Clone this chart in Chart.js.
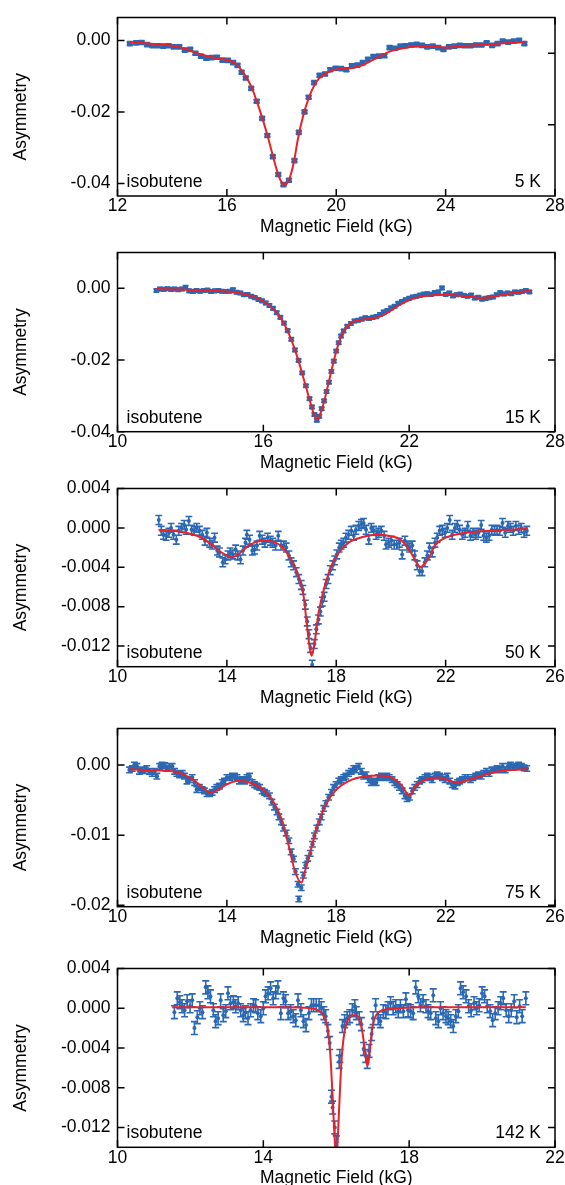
<!DOCTYPE html>
<html>
<head>
<meta charset="utf-8">
<title>Isobutene avoided level crossing spectra</title>
<script src="https://cdn.jsdelivr.net/npm/chart.js@4.4.0/dist/chart.umd.min.js"></script>
<style>
  html, body { margin: 0; padding: 0; background: #fff; }
  #wrap { position: relative; width: 565px; height: 1185px; overflow: hidden; }
  #wrap canvas { position: absolute; left: 0; }
</style>
</head>
<body>
<div id="wrap"></div>
<script>
// ---- 5 K ----
const field5K = [12.45,12.68,12.88,13.08,13.28,13.47,13.67,13.87,14.06,14.26,14.46,14.66,14.85,15.05,15.25,15.44,15.64,15.84,16.04,16.23,16.39,16.54,16.69,16.89,17.09,17.29,17.48,17.68,17.88,18.07,18.27,18.47,18.63,18.84,18.99,19.19,19.39,19.59,19.78,19.98,20.18,20.37,20.57,20.77,20.97,21.16,21.36,21.56,21.76,21.95,22.15,22.35,22.54,22.74,22.94,23.14,23.33,23.53,23.73,23.92,24.12,24.32,24.52,24.71,24.91,25.11,25.31,25.5,25.7,25.9,26.09,26.29,26.49,26.69,26.88];
const asym5K = [-0.0009,-0.0007,-0.0006,-0.0012,-0.0015,-0.0015,-0.0016,-0.0015,-0.0018,-0.0018,-0.0027,-0.0025,-0.0036,-0.0044,-0.0050,-0.0048,-0.0047,-0.0055,-0.0056,-0.0062,-0.0070,-0.0089,-0.0105,-0.0134,-0.0170,-0.0218,-0.0266,-0.0325,-0.0375,-0.0403,-0.0391,-0.0336,-0.0257,-0.0200,-0.0159,-0.0118,-0.0098,-0.0094,-0.0082,-0.0078,-0.0079,-0.0082,-0.0071,-0.0069,-0.0062,-0.0053,-0.0045,-0.0044,-0.0043,-0.0020,-0.0022,-0.0016,-0.0015,-0.0013,-0.0011,-0.0014,-0.0018,-0.0016,-0.0020,-0.0025,-0.0018,-0.0016,-0.0014,-0.0015,-0.0015,-0.0013,-0.0013,-0.0007,-0.0014,-0.0009,-0.0002,-0.0005,-0.0002,0.0000,-0.0009];
const err5K = 0.0004;
const fit5KField = [12.45,13.0,13.5,14.0,14.5,15.0,15.5,16.0,16.3,16.6,16.9,17.1,17.3,17.5,17.7,17.9,18.05,18.12,18.2,18.3,18.45,18.6,18.8,19.0,19.2,19.4,19.7,20.1,20.6,21.0,21.5,22.0,22.5,23.0,23.5,24.0,24.5,25.0,26.0,26.9];
const fit5KAsym = [-0.0005,-0.0008,-0.0011,-0.0015,-0.0024,-0.0038,-0.0048,-0.0055,-0.0064,-0.0090,-0.0130,-0.0172,-0.0218,-0.0270,-0.0328,-0.0380,-0.0402,-0.0405,-0.0399,-0.0384,-0.0340,-0.0275,-0.0208,-0.0160,-0.0125,-0.0104,-0.0089,-0.0080,-0.0077,-0.0068,-0.0048,-0.0030,-0.0021,-0.0017,-0.0017,-0.0020,-0.0017,-0.0014,-0.0009,-0.0004];
const fieldTicks5K = [12, 16, 20, 24, 28];
const asymTicks5K = [0, -0.02, -0.04];
const asymRightTicks5K = [-0.0036, -0.0236];

// ---- 15 K ----
const field15K = [11.60,11.75,11.90,12.05,12.20,12.35,12.50,12.65,12.80,12.95,13.10,13.25,13.40,13.55,13.70,13.85,14.00,14.15,14.30,14.45,14.60,14.75,14.90,15.05,15.20,15.35,15.50,15.65,15.80,15.95,16.10,16.25,16.40,16.55,16.70,16.85,17.00,17.15,17.30,17.45,17.60,17.75,17.90,18.00,18.10,18.20,18.30,18.40,18.50,18.60,18.70,18.80,18.90,19.00,19.10,19.20,19.30,19.45,19.60,19.75,19.90,20.05,20.20,20.35,20.50,20.65,20.80,20.95,21.10,21.25,21.40,21.55,21.70,21.85,22.00,22.15,22.30,22.45,22.60,22.75,22.90,23.05,23.20,23.35,23.50,23.65,23.80,23.95,24.10,24.25,24.40,24.55,24.70,24.85,25.00,25.15,25.30,25.45,25.60,25.75,25.90,26.05,26.20,26.35,26.50,26.65,26.80,26.95];
const asym15K = [-0.0006,-0.0002,-0.0003,-0.0001,-0.0003,-0.0002,-0.0004,-0.0002,0.0003,-0.0007,-0.0009,-0.0006,-0.0008,-0.0006,-0.0005,-0.0009,-0.0007,-0.0006,-0.0008,-0.0009,-0.0008,-0.0004,-0.0011,-0.0013,-0.0018,-0.0017,-0.0022,-0.0026,-0.0031,-0.0035,-0.0041,-0.0048,-0.0056,-0.0068,-0.0081,-0.0097,-0.0118,-0.0142,-0.0172,-0.0201,-0.0236,-0.0272,-0.0308,-0.0331,-0.0352,-0.0368,-0.0357,-0.0336,-0.0314,-0.0288,-0.0262,-0.0232,-0.0203,-0.0175,-0.0152,-0.0133,-0.0119,-0.0106,-0.0098,-0.0091,-0.0089,-0.0086,-0.0082,-0.0084,-0.0081,-0.0079,-0.0073,-0.0066,-0.0062,-0.0055,-0.0050,-0.0042,-0.0037,-0.0032,-0.0028,-0.0024,-0.0022,-0.0019,-0.0016,-0.0015,-0.0017,-0.0012,-0.0010,0.0001,-0.0017,-0.0013,-0.0021,-0.0018,-0.0016,-0.0020,-0.0022,-0.0019,-0.0027,-0.0025,-0.0030,-0.0028,-0.0026,-0.0024,-0.0018,-0.0012,-0.0016,-0.0013,-0.0015,-0.0010,-0.0011,-0.0009,-0.0006,-0.0010];
const err15K = 0.0004;
const fit15KField = [11.6,12.5,13.5,14.5,15.0,15.5,16.0,16.5,16.8,17.1,17.4,17.7,17.95,18.1,18.2,18.3,18.45,18.6,18.8,19.0,19.2,19.4,19.7,20.0,20.5,20.9,21.4,22.0,22.5,23.0,23.5,24.0,24.5,25.0,25.5,26.0,26.5,27.0];
const fit15KAsym = [-0.0002,-0.0003,-0.0005,-0.0009,-0.0013,-0.0021,-0.0036,-0.0064,-0.0092,-0.0135,-0.0192,-0.0262,-0.0322,-0.0355,-0.0366,-0.0358,-0.0328,-0.0288,-0.0230,-0.0176,-0.0135,-0.0110,-0.0093,-0.0088,-0.0084,-0.0076,-0.0055,-0.0032,-0.0023,-0.0019,-0.0018,-0.0020,-0.0023,-0.0027,-0.0023,-0.0016,-0.0011,-0.0007];
const fieldTicks15K = [10, 16, 22, 28];
const asymTicks15K = [0, -0.02, -0.04];

// ---- 50 K ----
const field50K = [11.51,11.60,11.68,11.78,11.88,11.96,12.05,12.15,12.24,12.34,12.44,12.51,12.61,12.71,12.80,12.90,13.00,13.10,13.20,13.27,13.37,13.46,13.55,13.65,13.73,13.85,13.94,14.04,14.12,14.22,14.32,14.40,14.50,14.59,14.68,14.73,14.83,14.93,15.01,15.10,15.20,15.29,15.39,15.49,15.59,15.68,15.78,15.88,15.98,16.07,16.17,16.27,16.35,16.44,16.54,16.63,16.72,16.78,16.87,16.94,17.00,17.06,17.12,17.20,17.27,17.35,17.42,17.49,17.56,17.63,17.70,17.78,17.87,17.94,18.02,18.11,18.18,18.27,18.35,18.45,18.55,18.64,18.72,18.82,18.92,19.00,19.09,19.19,19.28,19.37,19.46,19.55,19.65,19.75,19.82,19.92,20.02,20.12,20.21,20.31,20.41,20.51,20.59,20.68,20.78,20.87,20.96,21.05,21.14,21.24,21.33,21.41,21.51,21.61,21.69,21.78,21.88,21.98,22.06,22.15,22.24,22.34,22.43,22.51,22.61,22.71,22.81,22.91,23.00,23.10,23.20,23.30,23.39,23.49,23.59,23.69,23.79,23.88,23.98,24.08,24.18,24.28,24.37,24.47,24.57,24.67,24.77,24.87,24.97];
const asym50K = [0.0008,-0.0003,-0.0007,-0.0008,-0.0005,0.0000,-0.0007,-0.0012,-0.0003,0.0000,0.0003,-0.0002,0.0007,-0.0002,-0.0003,0.0000,-0.0003,-0.0007,-0.0013,-0.0005,-0.0015,-0.0017,-0.0010,-0.0023,-0.0025,-0.0035,-0.0032,-0.0028,-0.0025,-0.0027,-0.0022,-0.0028,-0.0032,-0.0023,-0.0015,-0.0007,-0.0012,-0.0023,-0.0022,-0.0018,-0.0008,-0.0012,-0.0015,-0.0010,-0.0013,-0.0015,-0.0018,-0.0008,-0.0018,-0.0018,-0.0020,-0.0028,-0.0035,-0.0038,-0.0045,-0.0052,-0.0058,-0.0063,-0.0078,-0.0095,-0.0108,-0.0122,-0.0139,-0.0118,-0.0103,-0.0093,-0.0085,-0.0075,-0.0070,-0.0057,-0.0052,-0.0043,-0.0038,-0.0033,-0.0027,-0.0020,-0.0017,-0.0015,-0.0010,-0.0007,-0.0003,-0.0008,-0.0002,0.0002,0.0004,0.0005,-0.0002,-0.0012,0.0000,-0.0003,-0.0007,-0.0005,-0.0003,-0.0008,-0.0017,-0.0015,-0.0013,-0.0017,-0.0017,-0.0015,-0.0027,-0.0013,-0.0018,-0.0020,-0.0018,-0.0028,-0.0038,-0.0044,-0.0044,-0.0035,-0.0028,-0.0020,-0.0025,-0.0015,-0.0010,-0.0003,-0.0002,-0.0005,0.0000,0.0008,-0.0007,0.0000,0.0003,-0.0002,-0.0007,-0.0005,0.0002,-0.0008,-0.0005,-0.0007,-0.0005,0.0003,-0.0008,-0.0010,-0.0008,-0.0002,-0.0003,-0.0002,-0.0003,0.0005,-0.0005,0.0002,0.0000,-0.0003,0.0002,-0.0002,0.0000,-0.0005,-0.0003];
const err50K = 0.00045;
const fit50KField = [11.5,12.3,13.0,13.4,13.75,14.0,14.15,14.3,14.5,14.8,15.1,15.4,15.7,16.0,16.3,16.6,16.8,16.92,17.02,17.1,17.2,17.35,17.6,17.85,18.1,18.45,19.0,19.5,19.9,20.4,20.75,20.95,21.08,21.2,21.4,21.6,22.0,22.7,24.2,25.0];
const fit50KAsym = [-0.0002,-0.0004,-0.0009,-0.0016,-0.0024,-0.0028,-0.0030,-0.0029,-0.0025,-0.0018,-0.0014,-0.0013,-0.0014,-0.0019,-0.0030,-0.0047,-0.0068,-0.0097,-0.0120,-0.0130,-0.0118,-0.0087,-0.0057,-0.0037,-0.0025,-0.0015,-0.0009,-0.0007,-0.0008,-0.0013,-0.0026,-0.0036,-0.0040,-0.0037,-0.0030,-0.0018,-0.0010,-0.0005,-0.0002,-0.0001];
const fieldTicks50K = [10, 14, 18, 22, 26];
const asymTicks50K = [0.004, 0, -0.004, -0.008, -0.012];

// ---- 75 K ----
const field75K = [10.44,10.54,10.62,10.71,10.80,10.90,10.99,11.07,11.17,11.27,11.35,11.44,11.54,11.63,11.72,11.80,11.90,12.00,12.09,12.17,12.27,12.37,12.45,12.54,12.63,12.73,12.82,12.90,13.00,13.10,13.18,13.27,13.37,13.46,13.55,13.63,13.73,13.83,13.91,14.00,14.10,14.20,14.28,14.37,14.46,14.56,14.65,14.73,14.83,14.93,15.01,15.10,15.20,15.29,15.38,15.46,15.56,15.65,15.74,15.83,15.90,15.99,16.07,16.17,16.27,16.35,16.44,16.51,16.60,16.63,16.72,16.80,16.88,16.96,17.05,17.13,17.20,17.29,17.38,17.45,17.54,17.62,17.72,17.82,17.90,17.99,18.09,18.18,18.27,18.35,18.45,18.55,18.64,18.72,18.82,18.92,19.00,19.09,19.19,19.28,19.37,19.46,19.55,19.65,19.75,19.85,19.94,20.04,20.14,20.23,20.31,20.41,20.51,20.59,20.68,20.78,20.87,20.96,21.05,21.14,21.24,21.33,21.41,21.51,21.61,21.69,21.78,21.88,21.98,22.06,22.15,22.24,22.34,22.43,22.51,22.61,22.71,22.81,22.91,23.00,23.10,23.20,23.30,23.39,23.49,23.59,23.69,23.79,23.88,23.98,24.08,24.18,24.28,24.37,24.47,24.57,24.67,24.77,24.87,24.97];
const asym75K = [-0.0007,-0.0005,0.0000,-0.0002,-0.0009,-0.0007,-0.0008,-0.0005,-0.0009,-0.0012,-0.0009,-0.0016,-0.0002,0.0000,-0.0001,-0.0005,-0.0002,-0.0002,-0.0009,-0.0012,-0.0014,-0.0012,-0.0016,-0.0023,-0.0021,-0.0018,-0.0025,-0.0035,-0.0032,-0.0035,-0.0037,-0.0041,-0.0041,-0.0039,-0.0035,-0.0032,-0.0030,-0.0025,-0.0023,-0.0018,-0.0018,-0.0016,-0.0016,-0.0018,-0.0023,-0.0021,-0.0023,-0.0018,-0.0016,-0.0025,-0.0028,-0.0030,-0.0032,-0.0037,-0.0039,-0.0041,-0.0044,-0.0053,-0.0060,-0.0067,-0.0074,-0.0081,-0.0090,-0.0097,-0.0108,-0.0124,-0.0134,-0.0152,-0.0170,-0.0191,-0.0175,-0.0157,-0.0143,-0.0133,-0.0126,-0.0113,-0.0101,-0.0090,-0.0081,-0.0074,-0.0062,-0.0055,-0.0046,-0.0039,-0.0032,-0.0028,-0.0023,-0.0021,-0.0018,-0.0016,-0.0012,-0.0009,-0.0005,-0.0007,-0.0002,-0.0009,-0.0016,-0.0014,-0.0021,-0.0025,-0.0023,-0.0025,-0.0018,-0.0016,-0.0018,-0.0016,-0.0018,-0.0021,-0.0025,-0.0028,-0.0032,-0.0037,-0.0044,-0.0048,-0.0046,-0.0037,-0.0032,-0.0028,-0.0023,-0.0021,-0.0018,-0.0016,-0.0018,-0.0021,-0.0016,-0.0014,-0.0016,-0.0018,-0.0021,-0.0016,-0.0023,-0.0028,-0.0030,-0.0025,-0.0023,-0.0021,-0.0018,-0.0018,-0.0021,-0.0018,-0.0016,-0.0014,-0.0016,-0.0012,-0.0009,-0.0012,-0.0007,-0.0007,-0.0005,-0.0007,-0.0002,-0.0007,-0.0002,0.0000,-0.0003,-0.0002,0.0000,-0.0002,-0.0004,-0.0005];
const err75K = 0.0004;
const fit75KField = [10.44,11.0,11.6,12.02,12.4,12.63,12.9,13.12,13.39,13.61,13.98,14.4,14.83,15.32,15.68,15.99,16.23,16.48,16.72,16.9,17.05,17.29,17.6,17.96,18.45,19.06,19.55,20.04,20.41,20.68,20.9,21.27,21.76,22.12,22.43,22.86,23.35,23.96,24.4,25.0];
const fit75KAsym = [-0.0006,-0.0007,-0.0008,-0.0009,-0.0013,-0.0018,-0.0025,-0.0032,-0.0039,-0.0037,-0.0028,-0.0023,-0.0025,-0.0035,-0.0051,-0.0076,-0.0110,-0.0150,-0.0168,-0.0145,-0.0124,-0.0090,-0.0058,-0.0037,-0.0023,-0.0016,-0.0015,-0.0018,-0.0030,-0.0044,-0.0030,-0.0021,-0.0018,-0.0022,-0.0025,-0.0021,-0.0015,-0.0009,-0.0007,-0.0006];
const fieldTicks75K = [10, 14, 18, 22, 26];
const asymTicks75K = [0, -0.01, -0.02];

// ---- 142 K ----
const field142K = [11.56,11.64,11.71,11.77,11.84,11.91,11.99,12.05,12.11,12.19,12.26,12.33,12.42,12.48,12.55,12.63,12.69,12.76,12.83,12.90,12.97,13.03,13.10,13.18,13.24,13.31,13.38,13.45,13.51,13.58,13.65,13.73,13.79,13.85,13.93,14.00,14.06,14.13,14.20,14.27,14.34,14.40,14.48,14.55,14.61,14.68,14.75,14.82,14.89,14.95,15.03,15.10,15.17,15.25,15.32,15.38,15.45,15.53,15.59,15.66,15.71,15.77,15.82,15.87,15.90,15.96,16.00,16.08,16.10,16.17,16.23,16.30,16.37,16.44,16.51,16.55,16.63,16.69,16.75,16.81,16.85,16.90,16.97,17.01,17.08,17.15,17.21,17.29,17.36,17.42,17.49,17.56,17.63,17.70,17.76,17.84,17.91,17.97,18.04,18.11,18.18,18.25,18.31,18.38,18.46,18.52,18.59,18.66,18.73,18.80,18.86,18.93,19.01,19.07,19.14,19.21,19.28,19.35,19.41,19.48,19.56,19.63,19.70,19.78,19.85,19.92,20.00,20.07,20.14,20.22,20.29,20.36,20.44,20.51,20.58,20.66,20.73,20.80,20.88,20.95,21.03,21.10,21.20];
const asym142K = [-0.0004,0.0010,0.0006,0.0002,-0.0002,0.0007,0.0002,0.0008,-0.0020,-0.0009,0.0000,-0.0004,0.0021,0.0016,0.0012,-0.0002,-0.0013,-0.0010,0.0008,-0.0007,-0.0003,0.0015,0.0005,0.0006,0.0002,0.0005,-0.0002,-0.0007,-0.0004,-0.0010,-0.0002,0.0003,0.0002,-0.0005,-0.0008,0.0000,0.0012,0.0015,0.0020,0.0010,0.0016,0.0021,-0.0005,0.0010,0.0007,-0.0005,-0.0003,-0.0008,-0.0012,0.0008,-0.0002,-0.0013,-0.0017,-0.0005,0.0003,0.0003,0.0003,0.0003,0.0000,-0.0005,-0.0008,-0.0023,-0.0035,-0.0089,-0.0100,-0.0120,-0.0135,-0.0054,-0.0048,-0.0018,-0.0013,-0.0010,-0.0008,-0.0002,0.0002,-0.0005,-0.0010,-0.0016,-0.0041,-0.0048,-0.0054,-0.0043,-0.0026,-0.0010,0.0003,-0.0010,-0.0013,-0.0003,-0.0004,0.0000,0.0005,0.0000,0.0002,-0.0003,0.0002,-0.0003,0.0009,-0.0002,-0.0003,-0.0005,0.0021,0.0012,0.0003,0.0007,0.0002,-0.0003,-0.0005,0.0013,-0.0010,-0.0013,0.0000,-0.0005,-0.0008,-0.0010,-0.0013,-0.0018,-0.0008,-0.0003,0.0020,0.0016,0.0012,0.0002,-0.0002,0.0005,0.0000,0.0003,0.0015,0.0012,0.0002,-0.0003,-0.0012,-0.0005,0.0000,0.0005,0.0010,-0.0002,-0.0008,-0.0002,0.0007,-0.0009,0.0002,-0.0008,0.0010];
const err142K = 0.00065;
const fit142KField = [11.5,13.0,14.5,15.3,15.5,15.62,15.72,15.8,15.86,15.92,15.97,16.0,16.03,16.08,16.14,16.22,16.32,16.45,16.55,16.63,16.7,16.76,16.81,16.86,16.9,16.95,17.0,17.08,17.2,17.4,17.7,18.2,21.2];
const fit142KAsym = [0.0001,0.0001,0.0001,0.0000,-0.0002,-0.0006,-0.0014,-0.0030,-0.0060,-0.0105,-0.0140,-0.0150,-0.0140,-0.0100,-0.0055,-0.0025,-0.0012,-0.0007,-0.0007,-0.0011,-0.0020,-0.0035,-0.0050,-0.0058,-0.0050,-0.0032,-0.0018,-0.0008,-0.0003,-0.0001,0.0000,0.0001,0.0001];
const fieldTicks142K = [10, 14, 18, 22];
const asymTicks142K = [0.004, 0, -0.004, -0.008, -0.012];

const FONT = '"Liberation Sans", Arial, Helvetica, sans-serif';
const FONT_SIZE = 17.5;
const BLUE = '#2b68b3';
const RED = '#e8212b';
const PLOT_LEFT = 117.5;
const PLOT_RIGHT = 555;
const TICK_LEN = 7;
const X_AXIS_H = 42;

const panels = [
  { temp: '5 K', boxTop: 13.3, boxBottom: 196, xMin: 12, xMax: 28, yMin: -0.0435, yMax: 0.0064,
    field: field5K, asym: asym5K, err: err5K, fitField: fit5KField, fitAsym: fit5KAsym,
    xTicks: fieldTicks5K, yTicks: asymTicks5K, rightTicks: asymRightTicks5K, digits: 2,
    marker: 'rect', radius: 4, cap: 3.2, barWidth: 1.5 },
  { temp: '15 K', boxTop: 248.3, boxBottom: 431.7, xMin: 10, xMax: 28, yMin: -0.04, yMax: 0.01,
    field: field15K, asym: asym15K, err: err15K, fitField: fit15KField, fitAsym: fit15KAsym,
    xTicks: fieldTicks15K, yTicks: asymTicks15K, rightTicks: asymTicks15K, digits: 2,
    marker: 'rect', radius: 3.6, cap: 3, barWidth: 1.5 },
  { temp: '50 K', boxTop: 484, boxBottom: 666.7, xMin: 10, xMax: 26, yMin: -0.0141, yMax: 0.004,
    field: field50K, asym: asym50K, err: err50K, fitField: fit50KField, fitAsym: fit50KAsym,
    xTicks: fieldTicks50K, yTicks: asymTicks50K, rightTicks: asymTicks50K, digits: 3,
    marker: 'circle', radius: 2, cap: 3.4, barWidth: 1.6 },
  { temp: '75 K', boxTop: 724, boxBottom: 906.7, xMin: 10, xMax: 26, yMin: -0.0202, yMax: 0.0052,
    field: field75K, asym: asym75K, err: err75K, fitField: fit75KField, fitAsym: fit75KAsym,
    xTicks: fieldTicks75K, yTicks: asymTicks75K, rightTicks: asymTicks75K, digits: 2,
    marker: 'circle', radius: 2.2, cap: 3.4, barWidth: 1.6 },
  { temp: '142 K', boxTop: 964, boxBottom: 1147.3, xMin: 10, xMax: 22, yMin: -0.014, yMax: 0.004,
    field: field142K, asym: asym142K, err: err142K, fitField: fit142KField, fitAsym: fit142KAsym,
    xTicks: fieldTicks142K, yTicks: asymTicks142K, rightTicks: asymTicks142K, digits: 3,
    marker: 'circle', radius: 2, cap: 3.5, barWidth: 1.6 }
];

function font(size) {
  return { family: FONT, size: size || FONT_SIZE };
}

// error bars go between the points and the fit line
function errorBarPlugin(p) {
  return {
    id: 'errorBars',
    afterDatasetDraw(chart, args) {
      if (args.index !== 1) return;
      const { ctx, chartArea: a, scales: { x, y } } = chart;
      ctx.save();
      ctx.beginPath();
      ctx.rect(a.left, a.top, a.right - a.left, a.bottom - a.top);
      ctx.clip();
      ctx.strokeStyle = BLUE;
      ctx.lineWidth = p.barWidth;
      ctx.beginPath();
      p.field.forEach((f, i) => {
        const px = x.getPixelForValue(f);
        const lo = y.getPixelForValue(p.asym[i] - p.err);
        const hi = y.getPixelForValue(p.asym[i] + p.err);
        ctx.moveTo(px, lo); ctx.lineTo(px, hi);
        ctx.moveTo(px - p.cap, lo); ctx.lineTo(px + p.cap, lo);
        ctx.moveTo(px - p.cap, hi); ctx.lineTo(px + p.cap, hi);
      });
      ctx.stroke();
      ctx.restore();
    }
  };
}

// box frame, inward ticks and the in-plot labels
function framePlugin(p) {
  return {
    id: 'frame',
    afterDraw(chart) {
      const { ctx, chartArea: a, scales: { x, y } } = chart;
      ctx.save();
      ctx.strokeStyle = '#000';
      ctx.lineWidth = 1.5;
      ctx.strokeRect(a.left, a.top, a.right - a.left, a.bottom - a.top);
      ctx.beginPath();
      p.xTicks.forEach(v => {
        const px = x.getPixelForValue(v);
        ctx.moveTo(px, a.bottom); ctx.lineTo(px, a.bottom - TICK_LEN);
        ctx.moveTo(px, a.top); ctx.lineTo(px, a.top + TICK_LEN);
      });
      p.yTicks.forEach(v => {
        const py = y.getPixelForValue(v);
        ctx.moveTo(a.left, py); ctx.lineTo(a.left + TICK_LEN, py);
      });
      p.rightTicks.forEach(v => {
        const py = y.getPixelForValue(v);
        ctx.moveTo(a.right, py); ctx.lineTo(a.right - TICK_LEN, py);
      });
      ctx.stroke();

      ctx.fillStyle = '#000';
      ctx.font = FONT_SIZE + 'px ' + FONT;
      ctx.textBaseline = 'alphabetic';
      ctx.textAlign = 'left';
      ctx.fillText('isobutene', a.left + 9, a.bottom - 9);
      ctx.textAlign = 'right';
      ctx.fillText(p.temp, a.right - 14, a.bottom - 9);

      ctx.translate(21, (a.top + a.bottom) / 2 + 10);
      ctx.rotate(-Math.PI / 2);
      ctx.textAlign = 'center';
      ctx.textBaseline = 'middle';
      ctx.fillText('Asymmetry', 0, 0);
      ctx.restore();
    }
  };
}

function drawPanel(p) {
  const canvasTop = Math.floor(p.boxTop) - 13;
  const padTop = p.boxTop - canvasTop;
  const height = Math.round(p.boxBottom - canvasTop + X_AXIS_H);
  const xAxisH = height - (p.boxBottom - canvasTop);

  const canvas = document.createElement('canvas');
  canvas.width = 565;
  canvas.height = height;
  canvas.style.width = '565px';
  canvas.style.height = height + 'px';
  canvas.style.top = canvasTop + 'px';
  document.getElementById('wrap').appendChild(canvas);

  new Chart(canvas.getContext('2d'), {
    type: 'scatter',
    data: {
      datasets: [
        {
          data: p.fitField.map((f, i) => ({ x: f, y: p.fitAsym[i] })),
          showLine: true,
          borderColor: RED,
          borderWidth: 2,
          pointRadius: 0,
          cubicInterpolationMode: 'monotone',
          clip: 0
        },
        {
          data: p.field.map((f, i) => ({ x: f, y: p.asym[i] })),
          pointStyle: p.marker,
          pointRadius: p.radius,
          backgroundColor: BLUE,
          borderColor: BLUE,
          borderWidth: 0,
          clip: 0
        }
      ]
    },
    options: {
      responsive: false,
      animation: false,
      events: [],
      layout: { padding: { top: padTop, left: 0, right: 565 - PLOT_RIGHT, bottom: 0 } },
      plugins: { legend: { display: false }, tooltip: { enabled: false } },
      scales: {
        x: {
          type: 'linear',
          min: p.xMin,
          max: p.xMax,
          afterBuildTicks: s => { s.ticks = p.xTicks.map(v => ({ value: v })); },
          afterFit: s => { s.height = xAxisH; },
          grid: { display: false, drawTicks: false },
          border: { display: false },
          ticks: { color: '#000', font: font(), padding: 0, autoSkip: false, maxRotation: 0,
                   callback: v => String(v) },
          title: { display: true, text: 'Magnetic Field (kG)', color: '#000', font: font(), padding: 0 }
        },
        y: {
          type: 'linear',
          min: p.yMin,
          max: p.yMax,
          afterBuildTicks: s => { s.ticks = p.yTicks.map(v => ({ value: v })); },
          afterFit: s => { s.width = PLOT_LEFT; },
          grid: { display: false, drawTicks: false },
          border: { display: false },
          ticks: { color: '#000', font: font(), padding: 7, autoSkip: false,
                   callback: v => (Math.abs(v) < 1e-9 ? 0 : v).toFixed(p.digits) }
        }
      }
    },
    plugins: [errorBarPlugin(p), framePlugin(p)]
  });
}

panels.forEach(drawPanel);
</script>
</body>
</html>
